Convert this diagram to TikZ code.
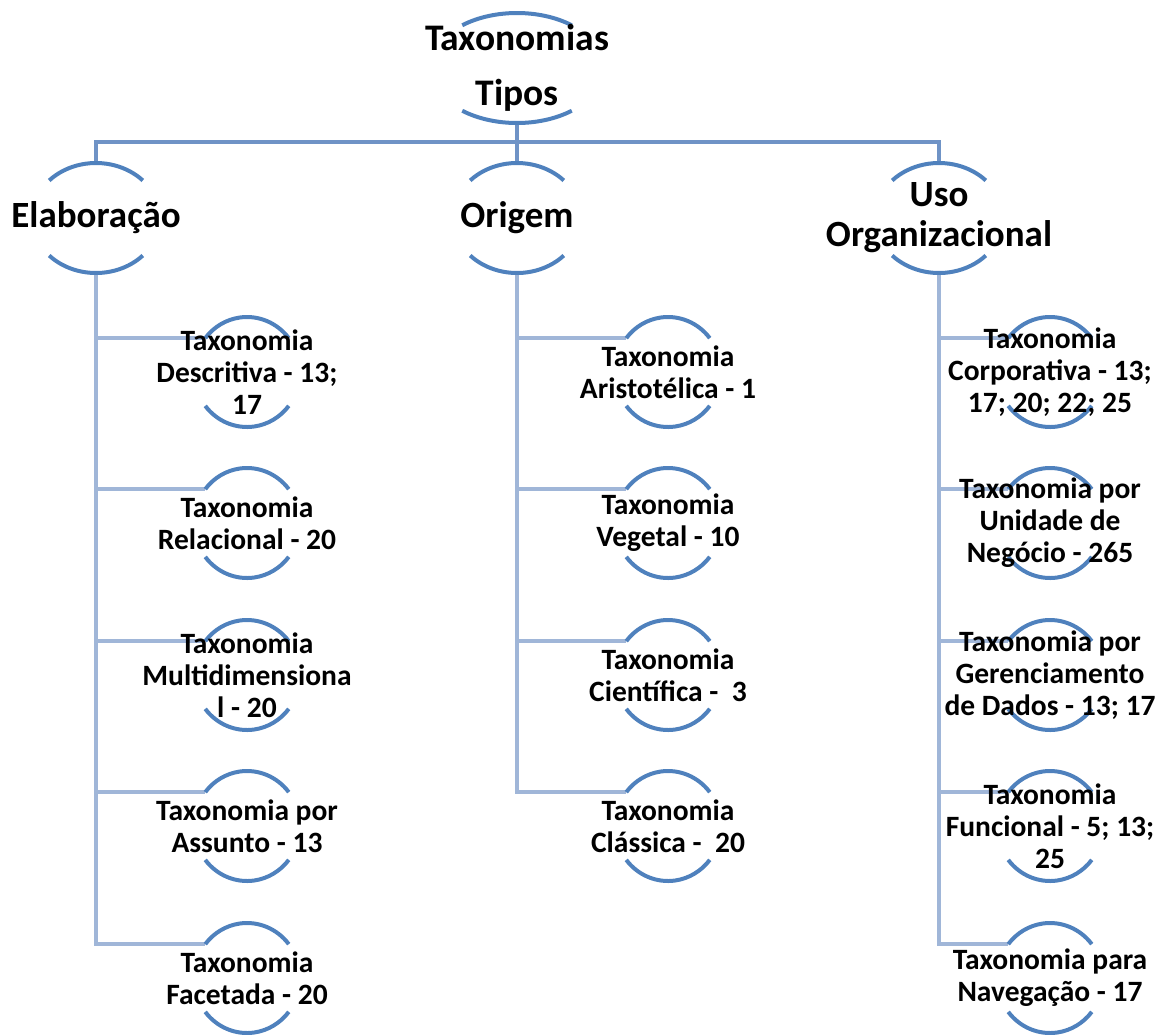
\documentclass[tikz,border=0pt]{standalone}
\usepackage{fontspec}
\setmainfont{Carlito}
\usetikzlibrary{backgrounds}
\definecolor{arcblue}{HTML}{4F81BD}
\definecolor{busblue}{HTML}{6F93C6}
\definecolor{subblue}{HTML}{A0B6D8}

\begin{document}
\begin{tikzpicture}[x=1pt,y=-1pt,
  every node/.style={inner sep=0pt,align=center},
  rootbox/.style={minimum width=174pt,minimum height=110pt,font=\bfseries\fontsize{37.5}{55}\selectfont},
  topbox/.style={minimum width=128pt,minimum height=110pt,font=\bfseries\fontsize{37}{40}\selectfont},
  leafbox/.style={minimum width=106pt,minimum height=110pt,font=\bfseries\fontsize{29.5}{32}\selectfont},
  arcline/.style={arcblue,line width=4pt},
  busline/.style={busblue,line width=4pt},
  subline/.style={subblue,line width=4.5pt}]
\useasboundingbox (0,0) rectangle (1159,1034);

% root and the three kinds
\node[rootbox] (root) at (517,68) {Taxonomias\\Tipos};
\node[topbox] (ela) at (96,218) {Elaboração};
\node[topbox] (ori) at (517,218) {Origem};
\node[topbox] (uso) at (939,218) {Uso\\Organizacional};

% Elaboracao
\node[leafbox] (e1) at (247,372) {Taxonomia\\Descritiva - 13;\\17};
\node[leafbox] (e2) at (247,523) {Taxonomia\\Relacional - 20};
\node[leafbox] (e3) at (247,675) {Taxonomia\\Multidimensiona\\l - 20};
\node[leafbox] (e4) at (247,826) {Taxonomia por\\Assunto - 13};
\node[leafbox] (e5) at (247,978) {Taxonomia\\Facetada - 20};

% Origem
\node[leafbox] (o1) at (668,372) {Taxonomia\\Aristotélica - 1};
\node[leafbox] (o2) at (668,523) {Taxonomia\\Vegetal - 10};
\node[leafbox] (o3) at (668,675) {Taxonomia\\Científica -\ \ 3};
\node[leafbox] (o4) at (668,826) {Taxonomia\\Clássica -\ \ 20};

% Uso organizacional
\node[leafbox] (u1) at (1050,372) {Taxonomia\\Corporativa - 13;\\17; 20; 22; 25};
\node[leafbox] (u2) at (1050,523) {Taxonomia por\\Unidade de\\Negócio - 265};
\node[leafbox] (u3) at (1050,675) {Taxonomia por\\Gerenciamento\\de Dados - 13; 17};
\node[leafbox] (u4) at (1050,826) {Taxonomia\\Funcional - 5; 13;\\25};
\node[leafbox] (u5) at (1050,978) {Taxonomia para\\Navegação - 17};

\coordinate (bus) at (517,142);
\foreach \n in {e1,e2,e3,e4,e5,o1,o2,o3,o4,u1,u2,u3,u4,u5}
  \coordinate (\n-in) at ([shift={(142:53pt and 55pt)}]\n.center);

\begin{scope}[on background layer]
% connectors
\draw[busline] (ela.north) |- (bus) -| (uso.north);
\draw[busline] (root.south) -- (ori.north);
\draw[subline] (ela.south) |- (e5-in);
\foreach \n in {e1,e2,e3,e4} \draw[subline] (ela.south |- \n-in) -- (\n-in);
\draw[subline] (ori.south) |- (o4-in);
\foreach \n in {o1,o2,o3} \draw[subline] (ori.south |- \n-in) -- (\n-in);
\draw[subline] (uso.south) |- (u5-in);
\foreach \n in {u1,u2,u3,u4} \draw[subline] (uso.south |- \n-in) -- (\n-in);

% arcs above and below each text
\draw[arcline] ([shift={(51:87pt and 55pt)}]root.center) arc[start angle=51,end angle=129,x radius=87pt,y radius=55pt];
\draw[arcline] ([shift={(231:87pt and 55pt)}]root.center) arc[start angle=231,end angle=309,x radius=87pt,y radius=55pt];
\foreach \n in {ela,ori,uso} {
  \draw[arcline] ([shift={(43:64pt and 55pt)}]\n.center) arc[start angle=43,end angle=137,x radius=64pt,y radius=55pt];
  \draw[arcline] ([shift={(223:64pt and 55pt)}]\n.center) arc[start angle=223,end angle=317,x radius=64pt,y radius=55pt];
}
\foreach \n in {e1,e2,e3,e4,e5,o1,o2,o3,o4,u1,u2,u3,u4,u5} {
  \draw[arcline] ([shift={(38:53pt and 55pt)}]\n.center) arc[start angle=38,end angle=142,x radius=53pt,y radius=55pt];
  \draw[arcline] ([shift={(218:53pt and 55pt)}]\n.center) arc[start angle=218,end angle=322,x radius=53pt,y radius=55pt];
}
\end{scope}
\end{tikzpicture}
\end{document}
